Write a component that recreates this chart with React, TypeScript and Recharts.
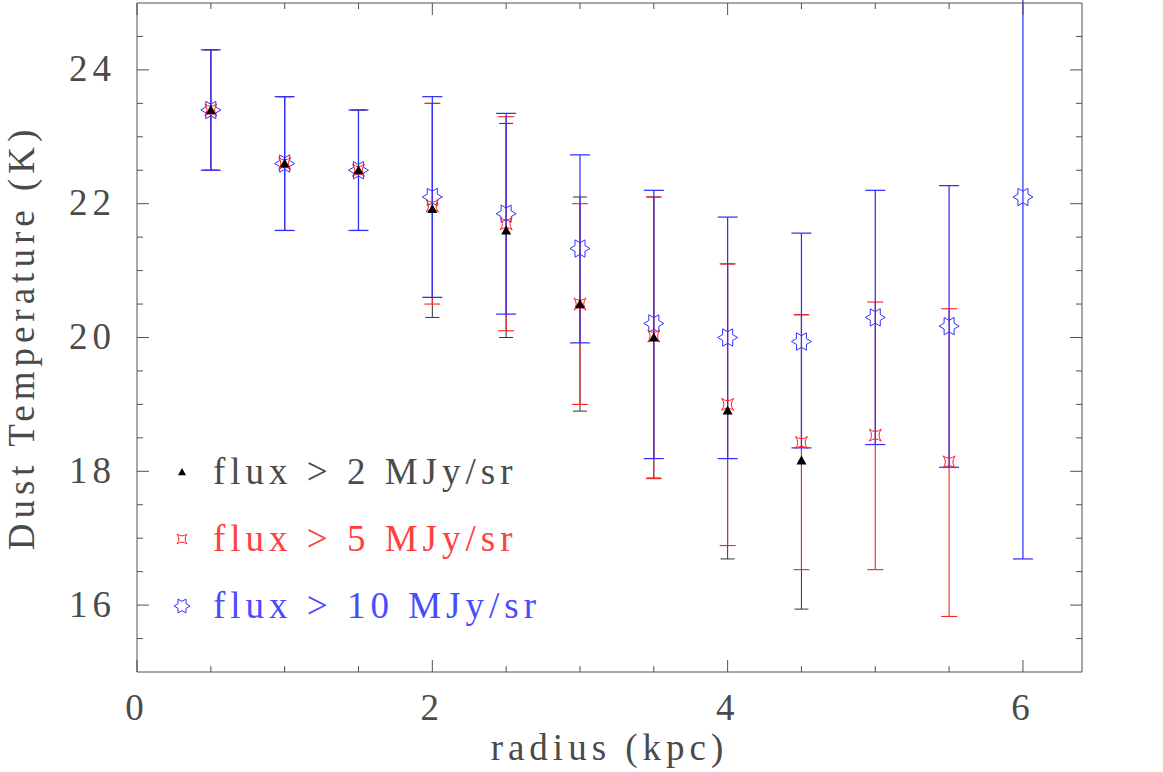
import React from 'react';
import { ScatterChart, Scatter, XAxis, YAxis, ErrorBar, Legend } from 'recharts';

// ---- data ----
const radius2 = [0.5, 1, 1.5, 2, 2.5, 3, 3.5, 4, 4.5];
const temp2 = [23.4, 22.6, 22.5, 21.92, 21.6, 20.5, 20.0, 18.91, 18.16];
const low2 = [22.5, 21.6, 21.6, 20.3, 20.0, 18.9, 17.9, 16.69, 15.94];
const high2 = [24.3, 23.6, 23.4, 23.5, 23.2, 22.1, 22.1, 21.1, 20.34];

const radius5 = [0.5, 1, 1.5, 2, 2.5, 3, 3.5, 4, 4.5, 5, 5.5];
const temp5 = [23.4, 22.6, 22.5, 21.97, 21.7, 20.5, 20.02, 19.0, 18.43, 18.54, 18.14];
const low5 = [22.5, 21.6, 21.6, 20.5, 20.1, 19.0, 17.89, 16.89, 16.53, 16.53, 15.83];
const high5 = [24.3, 23.6, 23.4, 23.5, 23.3, 22.0, 22.1, 21.1, 20.34, 20.53, 20.43];

const radius10 = [0.5, 1, 1.5, 2, 2.5, 3, 3.5, 4, 4.5, 5, 5.5, 6];
const temp10 = [23.4, 22.6, 22.5, 22.1, 21.85, 21.33, 20.21, 20.0, 19.94, 20.3, 20.17, 22.1];
const low10 = [22.5, 21.6, 21.6, 20.6, 20.35, 19.92, 18.19, 18.19, 18.35, 18.4, 18.06, 16.69];
const high10 = [24.3, 23.6, 23.4, 23.6, 23.35, 22.73, 22.2, 21.8, 21.56, 22.2, 22.27, 27.5];

const xTicks = [0, 0.5, 1, 1.5, 2, 2.5, 3, 3.5, 4, 4.5, 5, 5.5, 6];
const yTicks = [15.5, 16, 16.5, 17, 17.5, 18, 18.5, 19, 19.5, 20, 20.5, 21, 21.5, 22, 22.5, 23, 23.5, 24, 24.5];
const xDomain = [0, 6.4];
const yDomain = [15, 25];

const legendLabels = ['flux > 2 MJy/sr', 'flux > 5 MJy/sr', 'flux > 10 MJy/sr'];
const xLabel = 'radius (kpc)';
const yLabel = 'Dust Temperature (K)';

// ---- styles ----
const FONT = '"Liberation Serif", "Times New Roman", serif';
const FS = 37;
const LS = 5;
const TEXT = '#4a4a4a';
const AXIS = '#505050';
const BLACK = '#333333';
const RED = '#ff2020';
const BLUE = '#3030ff';
const RED_TXT = '#ff4040';
const BLUE_TXT = '#4a4aff';

const build = (r: number[], t: number[], lo: number[], hi: number[]) =>
  r.map((x, i) => ({ r: x, t: t[i], err: [t[i] - lo[i], hi[i] - t[i]] }));

const data2 = build(radius2, temp2, low2, high2);
const data5 = build(radius5, temp5, low5, high5);
const data10 = build(radius10, temp10, low10, high10);

// ---- marker shapes ----
const triPath = (cx: number, cy: number, s: number) =>
  `M${cx},${cy - s} L${cx + s},${cy + s * 0.8} L${cx - s},${cy + s * 0.8} Z`;

const star4Path = (cx: number, cy: number, s: number) =>
  `M${cx - s},${cy - s} Q${cx},${cy - s * 0.25} ${cx + s},${cy - s} ` +
  `Q${cx + s * 0.25},${cy} ${cx + s},${cy + s} ` +
  `Q${cx},${cy + s * 0.25} ${cx - s},${cy + s} ` +
  `Q${cx - s * 0.25},${cy} ${cx - s},${cy - s} Z`;

const star6Path = (cx: number, cy: number, R: number) => {
  const r = R / Math.sqrt(3);
  const pts: string[] = [];
  for (let k = 0; k < 12; k++) {
    const a = (k * Math.PI) / 6;
    const rad = k % 2 === 0 ? R : r;
    pts.push(`${(cx + rad * Math.cos(a)).toFixed(2)},${(cy + rad * Math.sin(a)).toFixed(2)}`);
  }
  return 'M' + pts.join(' L') + ' Z';
};

const TriShape = (p: any) => <path d={triPath(p.cx, p.cy, 5)} fill="#000" stroke="none" />;
const Star4Shape = (p: any) => <path d={star4Path(p.cx, p.cy, 6)} fill="none" stroke={RED} strokeWidth={1} />;
const Star6Shape = (p: any) => <path d={star6Path(p.cx, p.cy, 10)} fill="none" stroke={BLUE} strokeWidth={1} />;
const NoShape = () => <g />;

// ---- axis ticks (inward) ----
const isMajor = (v: number) => Math.abs(v % 2) < 1e-9;

const BottomTick = (p: any) => {
  const v = p.payload.value;
  const M = isMajor(v);
  return (
    <g>
      <line x1={p.x} x2={p.x} y1={p.y} y2={p.y - (M ? 12 : 6)} stroke={AXIS} strokeWidth={1} />
      {M && (
        <text x={p.x} y={p.y + 48} textAnchor="middle" fontFamily={FONT} fontSize={FS} fill={TEXT} letterSpacing={LS}>
          {v}
        </text>
      )}
    </g>
  );
};

const TopTick = (p: any) => {
  const v = p.payload.value;
  const M = isMajor(v);
  return <line x1={p.x} x2={p.x} y1={p.y} y2={p.y + (M ? 12 : 6)} stroke={AXIS} strokeWidth={1} />;
};

const LeftTick = (p: any) => {
  const v = p.payload.value;
  const M = isMajor(v);
  return (
    <g>
      <line x1={p.x} x2={p.x + (M ? 12 : 6)} y1={p.y} y2={p.y} stroke={AXIS} strokeWidth={1} />
      {M && (
        <text x={p.x - 21} y={p.y + 11.5} textAnchor="end" fontFamily={FONT} fontSize={FS} fill={TEXT} letterSpacing={LS}>
          {v}
        </text>
      )}
    </g>
  );
};

const RightTick = (p: any) => {
  const v = p.payload.value;
  const M = isMajor(v);
  return <line x1={p.x} x2={p.x - (M ? 12 : 6)} y1={p.y} y2={p.y} stroke={AXIS} strokeWidth={1} />;
};

const XLabel = (p: any) => {
  const vb = p.viewBox;
  return (
    <text x={vb.x + vb.width / 2} y={vb.y + 88} textAnchor="middle" fontFamily={FONT} fontSize={FS} fill={TEXT} letterSpacing={LS}>
      {xLabel}
    </text>
  );
};

const YLabel = (p: any) => {
  const vb = p.viewBox;
  const cy = vb.y + vb.height / 2;
  const cx = 34;
  return (
    <text x={cx} y={cy} transform={`rotate(-90, ${cx}, ${cy})`} textAnchor="middle" fontFamily={FONT} fontSize={FS} fill={TEXT} letterSpacing={LS}>
      {yLabel}
    </text>
  );
};

const legendItems = [
  { label: legendLabels[0], color: TEXT, icon: (cx: number, cy: number) => <path d={triPath(cx, cy, 4)} fill="#000" /> },
  { label: legendLabels[1], color: RED_TXT, icon: (cx: number, cy: number) => <path d={star4Path(cx, cy, 5)} fill="none" stroke={RED} strokeWidth={1} /> },
  { label: legendLabels[2], color: BLUE_TXT, icon: (cx: number, cy: number) => <path d={star6Path(cx, cy, 8)} fill="none" stroke={BLUE} strokeWidth={1} /> },
];

const LegendBox = () => (
  <div>
    {legendItems.map((it) => (
      <div key={it.label} style={{ display: 'flex', alignItems: 'center', height: 67 }}>
        <svg width={28} height={24} style={{ display: 'block', flex: 'none' }}>
          {it.icon(14, 12)}
        </svg>
        <span
          style={{
            marginLeft: 17,
            fontFamily: FONT,
            fontSize: FS,
            letterSpacing: LS,
            color: it.color,
            whiteSpace: 'pre',
            lineHeight: 'normal',
          }}
        >
          {it.label}
        </span>
      </div>
    ))}
  </div>
);

export default function App() {
  return (
    <div style={{ position: 'absolute', left: 0, top: 0, width: 1163, height: 772, background: '#fff' }}>
      <ScatterChart width={1163} height={772} margin={{ top: 2, right: 80, bottom: 0, left: 0 }}>
        <XAxis
          xAxisId="b"
          type="number"
          dataKey="r"
          domain={xDomain}
          ticks={xTicks}
          interval={0}
          allowDataOverflow
          tickSize={0}
          tickMargin={0}
          tickLine={false}
          tick={(p: any) => <BottomTick {...p} />}
          axisLine={{ stroke: AXIS, strokeWidth: 1 }}
          height={100}
          label={(p: any) => <XLabel {...p} />}
        />
        <XAxis
          xAxisId="t"
          orientation="top"
          type="number"
          dataKey="r"
          domain={xDomain}
          ticks={xTicks}
          interval={0}
          allowDataOverflow
          tickSize={0}
          tickMargin={0}
          tickLine={false}
          tick={(p: any) => <TopTick {...p} />}
          axisLine={{ stroke: AXIS, strokeWidth: 1 }}
          height={1}
        />
        <YAxis
          yAxisId="l"
          type="number"
          dataKey="t"
          domain={yDomain}
          ticks={yTicks}
          interval={0}
          allowDataOverflow
          tickSize={0}
          tickMargin={0}
          tickLine={false}
          tick={(p: any) => <LeftTick {...p} />}
          axisLine={{ stroke: AXIS, strokeWidth: 1 }}
          width={137}
          label={(p: any) => <YLabel {...p} />}
        />
        <YAxis
          yAxisId="r"
          orientation="right"
          type="number"
          dataKey="t"
          domain={yDomain}
          ticks={yTicks}
          interval={0}
          allowDataOverflow
          tickSize={0}
          tickMargin={0}
          tickLine={false}
          tick={(p: any) => <RightTick {...p} />}
          axisLine={{ stroke: AXIS, strokeWidth: 1 }}
          width={1}
        />

        {/* error bars: black, red, blue (later ones slightly wider so they cover) */}
        <Scatter name="e2" data={data2} xAxisId="b" yAxisId="l" shape={NoShape} isAnimationActive={false} legendType="none">
          <ErrorBar dataKey="err" direction="y" width={7} stroke={BLACK} strokeWidth={1} isAnimationActive={false} />
        </Scatter>
        <Scatter name="e5" data={data5} xAxisId="b" yAxisId="l" shape={NoShape} isAnimationActive={false} legendType="none">
          <ErrorBar dataKey="err" direction="y" width={8} stroke={RED} strokeWidth={1.1} isAnimationActive={false} />
        </Scatter>
        <Scatter name="e10" data={data10} xAxisId="b" yAxisId="l" shape={NoShape} isAnimationActive={false} legendType="none">
          <ErrorBar dataKey="err" direction="y" width={10} stroke={BLUE} strokeWidth={1.25} isAnimationActive={false} />
        </Scatter>

        {/* markers: blue, red, black */}
        <Scatter name={legendLabels[2]} data={data10} xAxisId="b" yAxisId="l" shape={Star6Shape} isAnimationActive={false} />
        <Scatter name={legendLabels[1]} data={data5} xAxisId="b" yAxisId="l" shape={Star4Shape} isAnimationActive={false} />
        <Scatter name={legendLabels[0]} data={data2} xAxisId="b" yAxisId="l" shape={TriShape} isAnimationActive={false} />

        <Legend
          layout="vertical"
          align="center"
          verticalAlign="middle"
          wrapperStyle={{ left: 168, top: 438, width: 460 }}
          content={() => <LegendBox />}
        />
      </ScatterChart>
    </div>
  );
}
